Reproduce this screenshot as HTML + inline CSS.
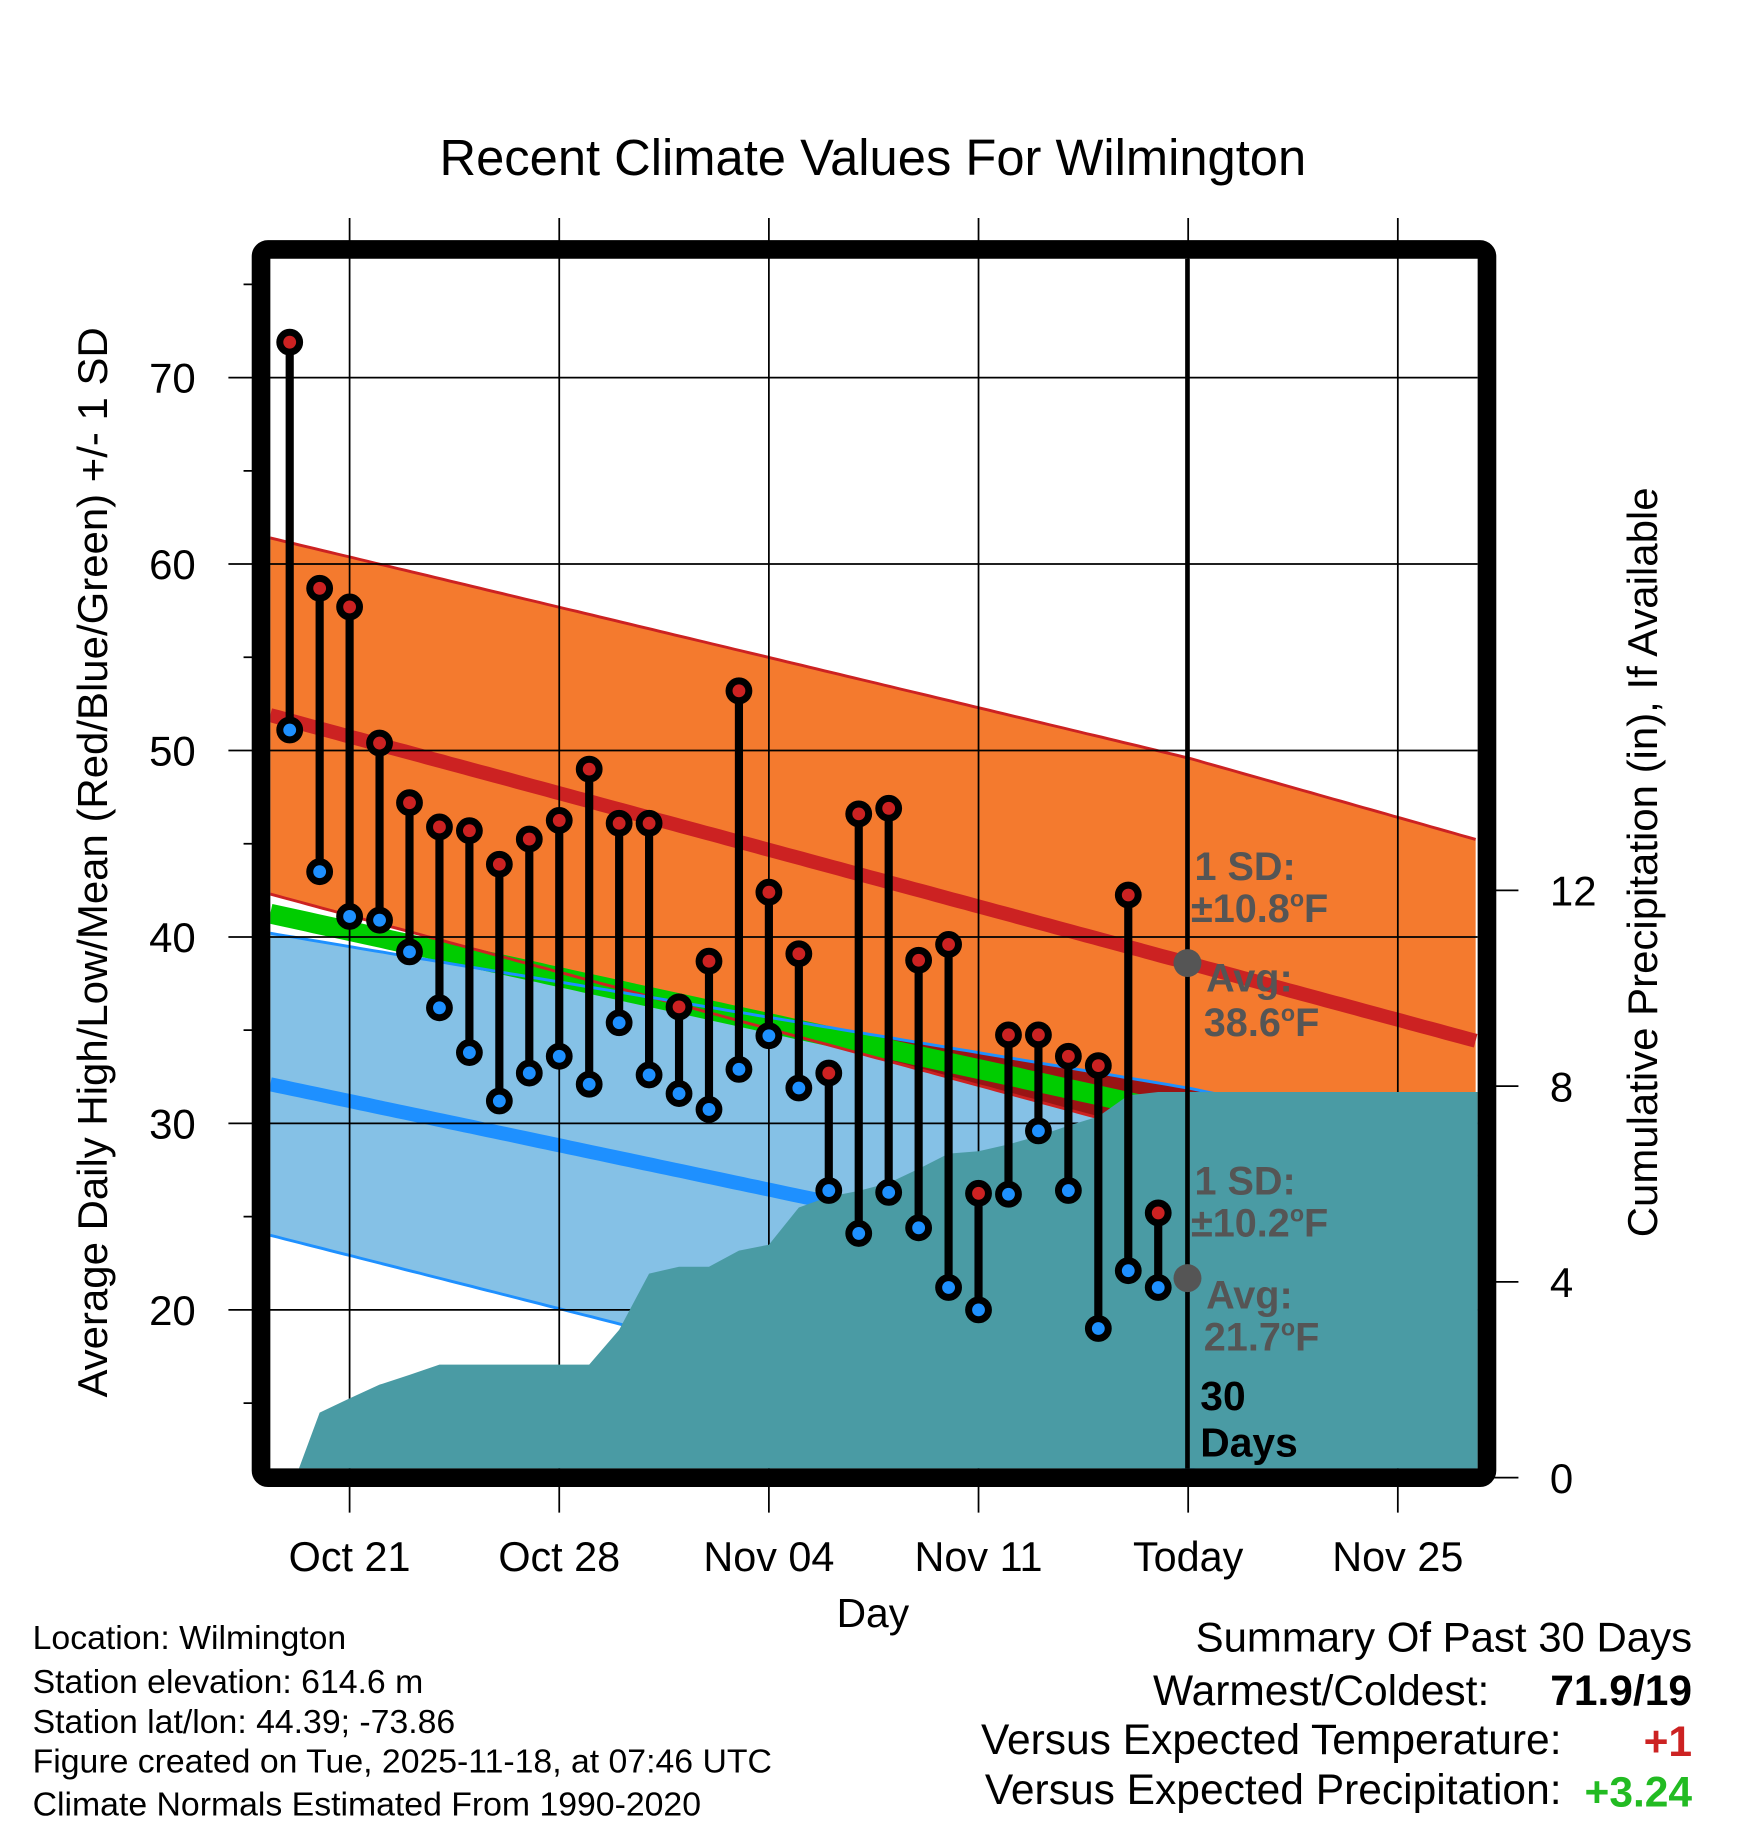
<!DOCTYPE html>
<html><head><meta charset="utf-8"><style>
html,body{margin:0;padding:0;background:#fff}
svg{display:block}
text{font-family:"Liberation Sans",Arial,sans-serif}
</style></head><body>
<svg id="chart" width="1748" height="1828" viewBox="0 0 1500 1568.6" xmlns="http://www.w3.org/2000/svg">
<defs><clipPath id="plotclip"><rect x="232" y="222" width="1036" height="1038"/></clipPath></defs>
<g id="layer-bands" clip-path="url(#plotclip)"></g>
<g id="layer-grid"></g>
<g id="layer-precip" clip-path="url(#plotclip)"></g>
<g id="layer-marks"></g>
<text x="749" y="150" text-anchor="middle" font-size="43.5">Recent Climate Values For Wilmington</text>
<text transform="translate(92,740) rotate(-90)" text-anchor="middle" font-size="36">Average Daily High/Low/Mean (Red/Blue/Green) +/- 1 SD</text>
<text transform="translate(1422,740) rotate(-90)" text-anchor="middle" font-size="36">Cumulative Precipitation (in), If Available</text>
<text x="749" y="1396" text-anchor="middle" font-size="35">Day</text>
<g font-size="29">
<text x="28" y="1415">Location: Wilmington</text>
<text x="28" y="1453">Station elevation: 614.6 m</text>
<text x="28" y="1487">Station lat/lon: 44.39; -73.86</text>
<text x="28" y="1521">Figure created on Tue, 2025-11-18, at 07:46 UTC</text>
<text x="28" y="1558">Climate Normals Estimated From 1990-2020</text>
</g>
<g font-size="36.5">
<text x="1452" y="1417" text-anchor="end" font-size="36">Summary Of Past 30 Days</text>
<text x="1278" y="1463" text-anchor="end">Warmest/Coldest:</text>
<text x="1452" y="1463" text-anchor="end" font-weight="bold">71.9/19</text>
<text x="1340" y="1505" text-anchor="end">Versus Expected Temperature:</text>
<text x="1452" y="1507" text-anchor="end" font-weight="bold" fill="#cc2222">+1</text>
<text x="1340" y="1548" text-anchor="end">Versus Expected Precipitation:</text>
<text x="1452" y="1550" text-anchor="end" font-weight="bold" fill="#22bb22">+3.24</text>
</g>
</svg>
<script>
// ---- data ----
const dayLabels = ["Oct 21","Oct 28","Nov 04","Nov 11","Today","Nov 25"];
const dayLabelIdx = [0,7,14,21,28,35];
const obsDays = [-2,-1,0,1,2,3,4,5,6,7,8,9,10,11,12,13,14,15,16,17,18,19,20,21,22,23,24,25,26,27];
const highs = [71.9,58.7,57.7,50.4,47.2,45.9,45.7,43.9,45.25,46.25,49.0,46.1,46.1,36.25,38.7,53.2,42.4,39.1,32.7,46.6,46.9,38.75,39.6,26.25,34.75,34.75,33.6,33.1,42.25,25.2];
const lows = [51.1,43.5,41.1,40.9,39.2,36.2,33.8,31.2,32.7,33.6,32.1,35.4,32.6,31.6,30.75,32.9,34.7,31.9,26.4,24.1,26.3,24.4,21.2,20.0,26.2,29.6,26.4,19.0,22.1,21.2];
const precip = [0,1.33,1.62,1.9,2.1,2.31,2.31,2.31,2.31,2.31,2.31,3.02,4.17,4.31,4.31,4.64,4.76,5.52,5.74,5.86,6.02,6.31,6.62,6.67,6.81,6.98,7.19,7.38,7.81,7.88];
const normDays = [-2.65,28,37.67];
const highMean = [51.9,38.6,34.4];
const highSDup = [9.5,11.0,10.8];
const highSDdn = [9.6,9.6,9.6];
const lowMean = [32.1,21.7,18.4];
const lowSD = [8.1,10.2,10.2];
const yTicks = [20,30,40,50,60,70];
const y2Ticks = [0,4,8,12];

// ---- scales ----
const X = d => 300 + d*25.7;
const Y = t => 324 + (70 - t)*16;
const P = p => 1268 - p*42;
const NS = "http://www.w3.org/2000/svg";
function mk(tag, attrs, parent){const e=document.createElementNS(NS,tag);for(const k in attrs)e.setAttribute(k,attrs[k]);parent.appendChild(e);return e;}
function interp(arr,d){for(let i=0;i<normDays.length-1;i++){if(d<=normDays[i+1]||i==normDays.length-2){const f=(d-normDays[i])/(normDays[i+1]-normDays[i]);return arr[i]+f*(arr[i+1]-arr[i]);}}}
const samples=[];for(let d=normDays[0];d<=normDays[2]+0.001;d+=0.25)samples.push(d);
function line(fn){return samples.map(d=>X(d).toFixed(1)+","+Y(fn(d)).toFixed(1));}
function band(fu,fl){return line(fu).concat(line(fl).reverse()).join(" ");}

const bands=document.getElementById('layer-bands');
const hU=d=>interp(highMean,d)+interp(highSDup,d), hL=d=>interp(highMean,d)-interp(highSDdn,d);
const lU=d=>interp(lowMean,d)+interp(lowSD,d), lL=d=>interp(lowMean,d)-interp(lowSD,d);
let e;
e=mk('polygon',{points:band(lU,lL),fill:'#85c1e6'},bands);


e=mk('polygon',{points:band(hU,hL),fill:'#f47a2e'},bands);


const cp=mk('clipPath',{id:'lowclip'},document.querySelector('defs'));
mk('polygon',{points:band(lU,lL)},cp);
e=mk('polygon',{points:band(d=>interp(highMean,d),hL),fill:'#9a1414','clip-path':'url(#lowclip)'},bands);


e=mk('polyline',{points:line(d=>(hL(d)+lU(d))/2).join(" "),fill:'none',stroke:'#00cc00','stroke-width':17},bands);


[[hU,'#cc2222','high-sd-upper'],[hL,'#cc2222','high-sd-lower'],[lU,'#1e90ff','low-sd-upper'],[lL,'#1e90ff','low-sd-lower']].forEach(a=>{
 e=mk('polyline',{points:line(a[0]).join(" "),fill:'none',stroke:a[1],'stroke-width':2.5},bands);
 
 
});
e=mk('polyline',{points:line(d=>interp(highMean,d)).join(" "),fill:'none',stroke:'#cc2222','stroke-width':12},bands);


e=mk('polyline',{points:line(d=>interp(lowMean,d)).join(" "),fill:'none',stroke:'#1e90ff','stroke-width':12},bands);



// grid & ticks
const grid=document.getElementById('layer-grid');
dayLabelIdx.forEach((d,i)=>{
 e=mk('line',{x1:X(d),x2:X(d),y1:187,y2:1298,stroke:'#000','stroke-width':1.5},grid);
 
 
 e=mk('text',{x:X(d),y:1348,'text-anchor':'middle','font-size':35.5},grid);
 e.textContent=dayLabels[i];
 
 
});
yTicks.forEach(t=>{
 e=mk('line',{x1:196,x2:1268,y1:Y(t),y2:Y(t),stroke:'#000','stroke-width':1.5},grid);
 
 
 e=mk('text',{x:168,y:Y(t)+13,'text-anchor':'end','font-size':36},grid);
 e.textContent=t;
 
 
});
for(let t=15;t<=75;t+=10){
 e=mk('line',{x1:209,x2:224,y1:Y(t),y2:Y(t),stroke:'#000','stroke-width':1.5},grid);
 
 
}
y2Ticks.forEach(p=>{
 e=mk('line',{x1:1276,x2:1303,y1:P(p),y2:P(p),stroke:'#000','stroke-width':1.5},grid);
 
 
 e=mk('text',{x:1330,y:P(p)+13,'text-anchor':'start','font-size':36},grid);
 e.textContent=p;
 
 
});

// precip
const pr=document.getElementById('layer-precip');
let pts=[X(obsDays[0])+5+","+P(0)];
obsDays.forEach((d,i)=>{if(i>0)pts.push(X(d)+","+P(precip[i]));});
pts.push("1270,"+P(precip[precip.length-1]));pts.push("1270,1262");pts.push((X(obsDays[0])+5)+",1262");
e=mk('polygon',{points:pts.join(" "),fill:'#4a9ba4'},pr);



// marks
const m=document.getElementById('layer-marks');
e=mk('rect',{x:224,y:214,width:1052,height:1054,rx:6,fill:'none',stroke:'#000','stroke-width':16},m);


e=mk('line',{x1:1019,x2:1019,y1:222,y2:1260,stroke:'#000','stroke-width':4},m);


obsDays.forEach((d,i)=>{
 e=mk('line',{x1:X(d),x2:X(d),y1:Y(highs[i]),y2:Y(lows[i]),stroke:'#000','stroke-width':7},m);
 
 
});
obsDays.forEach((d,i)=>{
 e=mk('circle',{cx:X(d),cy:Y(highs[i]),r:8.5,fill:'#cc2222',stroke:'#000','stroke-width':6},m);
 
 
 e=mk('circle',{cx:X(d),cy:Y(lows[i]),r:8.5,fill:'#1e90ff',stroke:'#000','stroke-width':6},m);
 
 
});
e=mk('circle',{cx:1019,cy:Y(highMean[1]),r:12,fill:'#555'},m);


e=mk('circle',{cx:1019,cy:Y(lowMean[1]),r:12,fill:'#555'},m);


</script>
<svg style="position:absolute;left:0;top:0" width="1748" height="1828" viewBox="0 0 1500 1568.6" xmlns="http://www.w3.org/2000/svg">
<g font-weight="bold" font-size="34" fill="#555" font-family="Liberation Sans, sans-serif">
<text x="1025" y="755">1 SD:</text>
<text x="1022" y="791">±10.8<tspan font-size="20" dy="-13">o</tspan><tspan dy="13">F</tspan></text>
<text x="1035" y="851">Avg:</text>
<text x="1033" y="889">38.6<tspan font-size="20" dy="-13">o</tspan><tspan dy="13">F</tspan></text>
<text x="1025" y="1025">1 SD:</text>
<text x="1022" y="1061">±10.2<tspan font-size="20" dy="-13">o</tspan><tspan dy="13">F</tspan></text>
<text x="1035" y="1123">Avg:</text>
<text x="1033" y="1159">21.7<tspan font-size="20" dy="-13">o</tspan><tspan dy="13">F</tspan></text>
</g>
<g font-weight="bold" font-size="35" fill="#000" font-family="Liberation Sans, sans-serif">
<text x="1030" y="1210">30</text>
<text x="1030" y="1250">Days</text>
</g>
</svg>
</body></html>
